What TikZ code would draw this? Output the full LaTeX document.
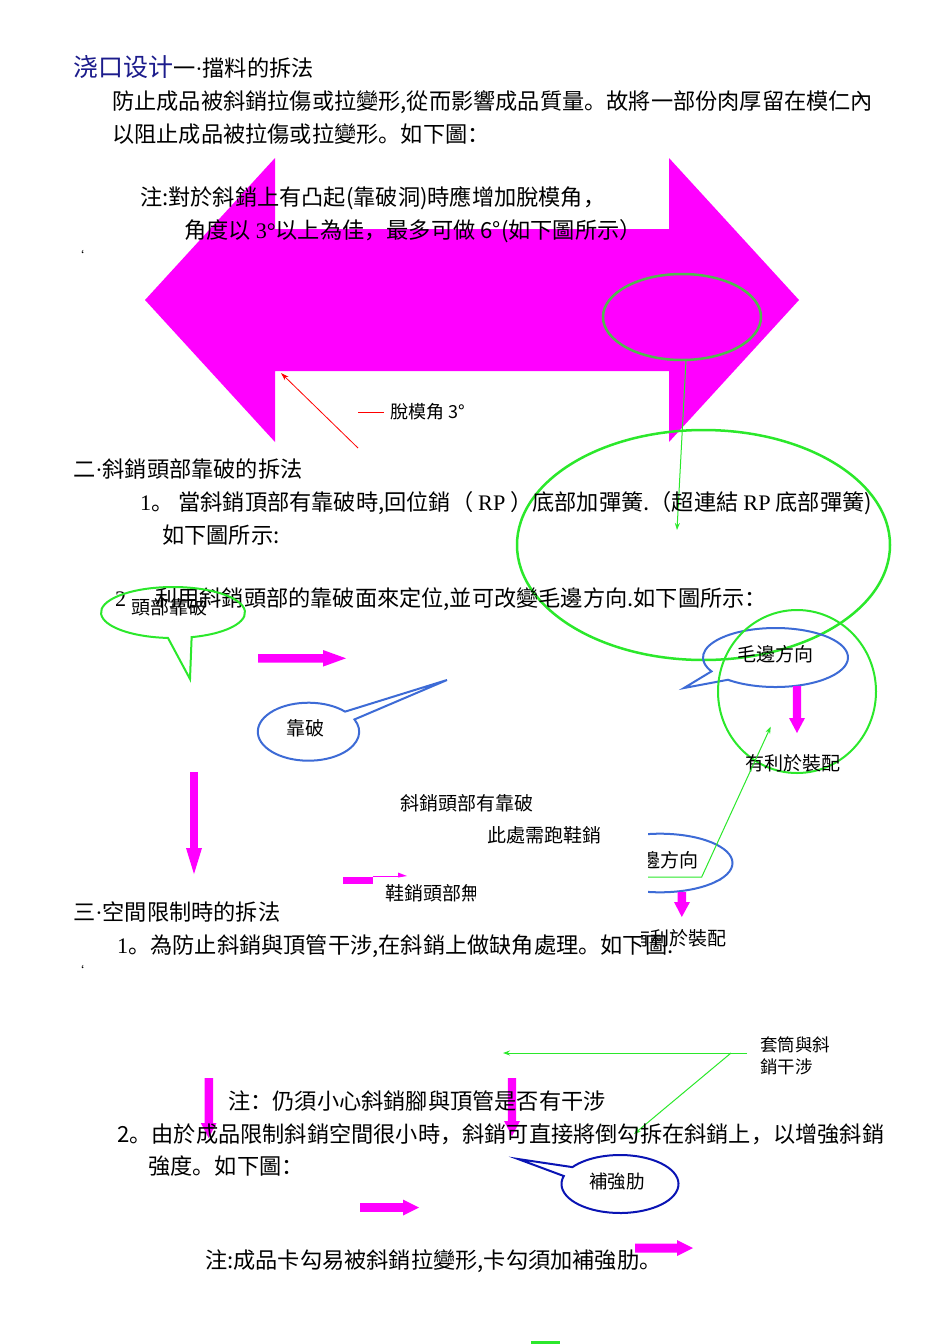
\documentclass[tikz,border=0pt]{standalone}
\usepackage{fontspec}
\setmainfont{Noto Sans CJK SC}
\newfontfamily\ser{Liberation Serif}
\usetikzlibrary{arrows.meta}
\definecolor{mag}{HTML}{FF00FF}
\definecolor{gr}{HTML}{2BE82B}
\definecolor{dgr}{HTML}{52B84E}
\definecolor{bl}{HTML}{3D6BD6}
\definecolor{dbl}{HTML}{0A14B4}
\definecolor{navy}{HTML}{1C1C8C}
\newcommand{\mdot}{{\ser\textperiodcentered}}
\begin{document}
\begin{tikzpicture}[x=1pt,y=-1pt,
  txt/.style={anchor=base west,inner sep=0pt,yshift=-8.4pt,font=\fontsize{22.2}{26}\selectfont},
  stxt/.style={anchor=base west,inner sep=0pt,yshift=-7.2pt,font=\fontsize{19}{22}\selectfont},
  ctxt/.style={stxt,anchor=base},
  blk/.style={fill=mag,draw=none},
  thinarrow/.style={-{Stealth[length=7pt,width=5pt]},line width=1pt},
  callg/.style={draw=gr,line width=2pt},
  callb/.style={draw=bl,line width=2pt}]
\useasboundingbox[fill=white] (0,0) rectangle (950,1344);

% ---------- section 1 ----------
\node[txt] (title) at (73,68) {{\color{navy}\fontsize{25}{28}\selectfont 浇口设计}一\mdot 擋料的拆法};
\node[txt] (p1) at (112,101) {防止成品被斜銷拉傷或拉變形,從而影響成品質量。故將一部份肉厚留在模仁內};
\node[txt] (p2) at (112,134) {以阻止成品被拉傷或拉變形。如下圖：};

% double block arrow
\fill[mag] (145,300) -- (275,158) -- (275,229) -- (669,229) -- (669,158) -- (799,300)
  -- (669,442) -- (669,371) -- (275,371) -- (275,442) -- cycle;
\draw[draw=dgr,line width=2.5pt] (682,317) ellipse [x radius=79pt,y radius=43pt];
\coordinate (e1b) at (686,360);
\coordinate (e1t) at (677,530);
\draw[gr,thinarrow] (e1b) -- (e1t);

\node[txt] (n1) at (140,197) {注:對於斜銷上有凸起(靠破洞)時應增加脫模角，};
\node[txt] (n2) at (184,230) {角度以 {\ser 3°}以上為佳，最多可做 6°(如下圖所示）};
\node[stxt] (tick1) at (72,253) {\fontsize{12}{12}\selectfont `};

\coordinate (r0) at (358,448);
\coordinate (r1) at (281,373);
\draw[red,line width=0.8pt,-{Stealth[length=8pt,width=5pt]}] (r0) -- (r1);
\node[stxt,font=\fontsize{18}{22}\selectfont] (draft) at (390,411) {脫模角 3°};
\coordinate (dl0) at (358,412);
\coordinate (dl1) at (384,412);
\draw[red,line width=0.8pt] (dl0) -- (dl1);

% ---------- section 2 ----------
\draw[gr,line width=2.5pt] (703.5,545) ellipse [x radius=186.5pt,y radius=115pt];
\node[txt] (s2) at (73,469) {二\mdot 斜銷頭部靠破的拆法};
\node[txt] (s21) at (140,502) {{\ser 1}。 當斜銷頂部有靠破時,回位銷（ {\ser RP} ）底部加彈簧.（超連結 {\ser RP} 底部彈簧)};
\node[txt] (s21b) at (162,535) {如下圖所示:};
\node[txt] (s22n) at (115,598) {\ser 2};
\node[txt] (s22) at (155,598) {利用斜銷頭部的靠破面來定位,並可改變毛邊方向.如下圖所示：};

% callout 頭部靠破
\draw[callg] (173,612.5) ++(-75:72pt and 25.5pt)
  arc[start angle=-75,end angle=266,x radius=72pt,y radius=25.5pt] -- (190,679) -- cycle;
\node[stxt] (c1) at (131,607) {頭部靠破};

% callout 靠破
\draw[callb] (308.5,731.7) ++(43.8:50.7pt and 29pt)
  arc[start angle=43.8,end angle=385,x radius=50.7pt,y radius=29pt] -- (447,680) -- cycle;
\node[ctxt] (c2) at (305,728) {靠破};

% callout 毛邊方向
\draw[callb] (775.5,657.5) ++(229:72.5pt and 29.5pt)
  arc[start angle=229,end angle=568,x radius=72.5pt,y radius=29.5pt] -- (684,688) -- cycle;
\node[ctxt] (c3) at (775,654) {毛邊方向};
\draw[gr,line width=2pt] (797,691.5) ellipse [x radius=79pt,y radius=81.5pt];

% magenta arrows
\fill[blk] (258,654) -- (323,654) -- (323,650) -- (346,658.3) -- (323,666.6) -- (323,662.6) -- (258,662.6) -- cycle;
\fill[blk] (190.2,772) -- (197.8,772) -- (197.8,848) -- (202,848) -- (194,874) -- (186,848) -- (190.2,848) -- cycle;
\fill[blk] (792.8,686) -- (801.2,686) -- (801.2,718) -- (805,718) -- (797,733) -- (789,718) -- (792.8,718) -- cycle;

\node[stxt] (c4) at (745,763) {有利於裝配};
\node[stxt] (c5) at (400,803) {斜銷頭部有靠破};
\node[stxt] (c6) at (487,835) {此處需跑鞋銷};

% small arrow and clipped text
\fill[blk] (343,876.7) rectangle (372.7,884);
\draw[mag,line width=0.8pt] (372.7,876) -- (400,876);
\fill[blk] (398,872.5) -- (407,876) -- (398,877.5) -- cycle;
\begin{scope}
  \clip (300,870) rectangle (475,915);
  \node[stxt] (c7) at (385,893) {鞋銷頭部無};
\end{scope}

% lower (clipped) callout group
\begin{scope}
  \clip (648,700) rectangle (950,880);
  \draw[callb] (660,863) ellipse [x radius=72.5pt,y radius=29.3pt];
  \node[ctxt] (c8) at (660,860) {毛邊方向};
  \coordinate (g0) at (600,877);
  \coordinate (g1) at (701.7,877);
  \coordinate (g2) at (770.7,726.7);
  \draw[gr,thinarrow] (g0) -- (g1) -- (g2);
\end{scope}
\begin{scope}
  \clip (648,880) rectangle (950,900);
  \draw[callb] (660,863) ellipse [x radius=72.5pt,y radius=29.3pt];
\end{scope}
\fill[blk] (677.7,892) -- (686,892) -- (686,902) -- (690,902) -- (681.8,917) -- (674,902) -- (677.7,902) -- cycle;

% ---------- section 3 ----------
\node[txt] (s3) at (73,912) {三\mdot 空間限制時的拆法};
\node[txt] (s31) at (117,945) {{\ser 1}。為防止斜銷與頂管干涉,在斜銷上做缺角處理。如下圖.};
\begin{scope}
  \clip (641,920) rectangle (760,960);
  \node[stxt] (c9) at (631,938) {有利於裝配};
\end{scope}
\node[stxt] (tick2) at (72,968) {\fontsize{12}{12}\selectfont `};

\node[stxt,font=\fontsize{17.5}{20}\selectfont] (c10) at (760,1044) {套筒與斜};
\node[stxt,font=\fontsize{17.5}{20}\selectfont] (c10b) at (760,1066) {銷干涉};
\coordinate (h0) at (747,1053);
\coordinate (h1) at (731,1053);
\coordinate (h2) at (503,1053);
\coordinate (h3) at (634,1134);
\draw[gr,thinarrow] (h0) -- (h2);
\draw[gr,thinarrow] (h1) -- (h3);

\fill[blk] (204.5,1078) -- (213,1078) -- (213,1123) -- (216.5,1123) -- (208.7,1138) -- (200.8,1123) -- (204.5,1123) -- cycle;
\fill[blk] (507.8,1078) -- (516.2,1078) -- (516.2,1121) -- (520,1121) -- (512,1136) -- (504,1121) -- (507.8,1121) -- cycle;

\node[txt] (s3n) at (228,1101) {注：仍須小心斜銷腳與頂管是否有干涉};
\node[txt] (s32) at (117,1134) {2。由於成品限制斜銷空間很小時，斜銷可直接將倒勾拆在斜銷上，以增強斜銷};
\node[txt] (s32b) at (148,1166) {強度。如下圖：};

% callout 補強肋
\draw[draw=dbl,line width=2pt] (620,1184) ++(164:58.5pt and 29pt)
  arc[start angle=164,end angle=504.4,x radius=58.5pt,y radius=29pt] -- (518,1159) -- cycle;
\node[ctxt,font=\fontsize{18.5}{22}\selectfont] (c11) at (617,1181) {補強肋};

\fill[blk] (360,1203) -- (403,1203) -- (403,1199.5) -- (419,1207.5) -- (403,1215.5) -- (403,1211.8) -- (360,1211.8) -- cycle;
\fill[blk] (635,1243.5) -- (677,1243.5) -- (677,1240) -- (693,1248) -- (677,1256) -- (677,1252.5) -- (635,1252.5) -- cycle;

\node[txt] (s3n2) at (205,1260) {注:成品卡勾易被斜銷拉變形,卡勾須加補強肋。};

\fill[gr] (531,1341) rectangle (560,1344);
\end{tikzpicture}
\end{document}
